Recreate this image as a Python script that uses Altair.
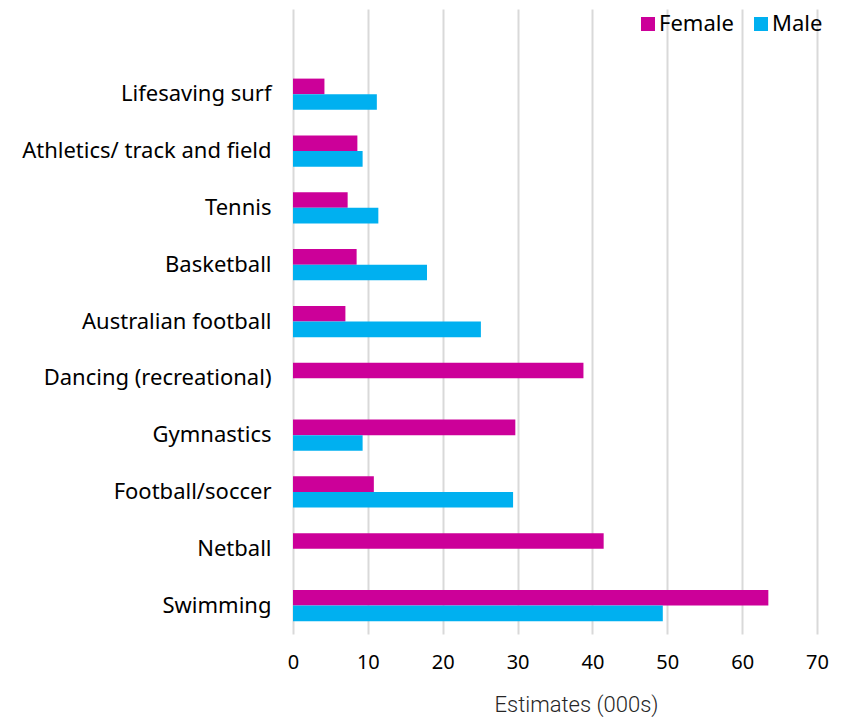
import altair as alt
import pandas as pd

sports = ["Lifesaving surf", "Athletics/ track and field", "Tennis", "Basketball",
          "Australian football", "Dancing (recreational)", "Gymnastics",
          "Football/soccer", "Netball", "Swimming"]
female = [4.2, 8.6, 7.3, 8.5, 7.0, 38.8, 29.7, 10.8, 41.5, 63.5]
male = [11.2, 9.3, 11.4, 17.9, 25.1, None, 9.3, 29.4, None, 49.4]
sexes = ["Female", "Male"]
colors = ["#CC0099", "#00B0F0"]

rows = []
for s, f, m in zip(sports, female, male):
    if f is not None:
        rows.append({"Sport": s, "Sex": "Female", "Value": f})
    if m is not None:
        rows.append({"Sport": s, "Sex": "Male", "Value": m})
df = pd.DataFrame(rows)

FONT = "Noto Sans"

chart = alt.Chart(df).mark_bar().encode(
    x=alt.X("Value:Q",
            scale=alt.Scale(domain=[0, 70], nice=False),
            axis=alt.Axis(values=list(range(0, 71, 10)), title="Estimates (000s)",
                          grid=True, gridColor="#d9d9d9", gridWidth=2,
                          domain=False, ticks=False, labelPadding=18, labelFlush=False,
                          labelFontSize=20, labelFont=FONT, labelColor="#000000",
                          titleFont="Roboto", titleFontWeight=300, titleFontSize=22,
                          titleColor="#262626", titlePadding=22, titleX=283,
                          titleAlign="center")),
    y=alt.Y("Sport:N",
            scale=alt.Scale(domain=[""] + sports, paddingInner=0.45, paddingOuter=0.225),
            axis=alt.Axis(title=None, ticks=False, domain=False, grid=False,
                          labelPadding=22, labelFontSize=22, labelFont=FONT,
                          labelColor="#000000", labelLimit=400)),
    yOffset=alt.YOffset("Sex:N", scale=alt.Scale(domain=sexes, paddingInner=0, paddingOuter=0)),
    color=alt.Color("Sex:N", scale=alt.Scale(domain=sexes, range=colors),
                    legend=alt.Legend(title=None, orient="none", direction="horizontal",
                                      legendX=344, legendY=4, symbolType="square",
                                      symbolSize=196, symbolStrokeWidth=0,
                                      symbolOpacity=1,
                                      labelFontSize=22, labelFont=FONT,
                                      labelColor="#000000", columnPadding=16,
                                      labelOffset=0)),
).properties(
    width=524, height=625,
    padding={"left": 293, "top": 9, "right": 28, "bottom": 86},
    autosize=alt.AutoSizeParams(type="none"),
).configure_view(stroke=None)

chart.save("out.html", embed_options={"renderer": "svg", "actions": False})
